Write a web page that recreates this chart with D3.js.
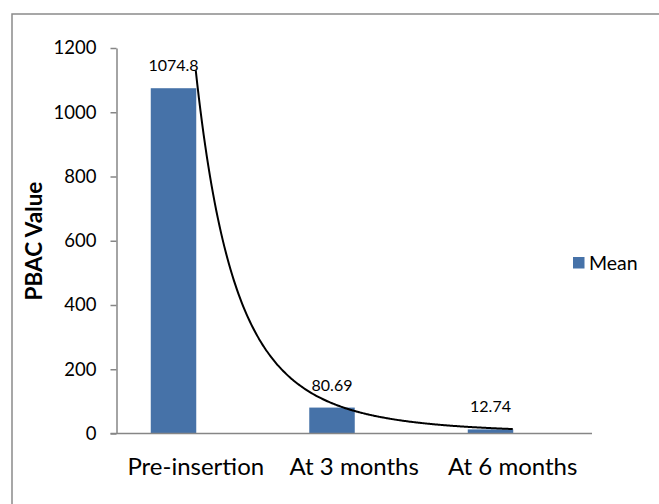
<!DOCTYPE html>
<html>
<head>
<meta charset="utf-8">
<script src="https://cdn.jsdelivr.net/npm/d3@7"></script>
<style>
  html, body { margin: 0; padding: 0; background: #fff; }
  svg { display: block; }
  text { font-family: Lato, "Open Sans", sans-serif; fill: #000; }
</style>
</head>
<body>
<svg id="chart" width="659" height="504"></svg>
<script>
// ---- data ----
const categories = ["Pre-insertion", "At 3 months", "At 6 months"];
const meanValues = [1074.8, 80.69, 12.74];
const valueLabels = ["1074.8", "80.69", "12.74"];
const yTicks = [0, 200, 400, 600, 800, 1000, 1200];
const seriesName = "Mean";
const yTitle = "PBAC Value";

const svg = d3.select("#chart");
const W = 659, H = 504;

// outer border
svg.append("rect")
  .attr("x", 12).attr("y", 14)
  .attr("width", W + 20).attr("height", H + 20)
  .attr("fill", "none").attr("stroke", "#8a8a8a").attr("stroke-width", 1.5);

const plotLeft = 116.5, plotRight = 592, plotTop = 48, plotBottom = 433.5;

const x = d3.scaleBand().domain(categories).range([plotLeft, plotRight]).padding(0);
const y = d3.scaleLinear().domain([0, 1200]).range([plotBottom, plotTop]);

const bw = x.bandwidth();
const barW = bw * 0.287;
const center = c => x(c) + bw / 2;

// bars (offset left of category center, as in a clustered layout)
svg.append("g").selectAll("rect")
  .data(meanValues)
  .join("rect")
  .attr("x", (d, i) => center(categories[i]) - barW + 0.5)
  .attr("y", d => y(d))
  .attr("width", barW)
  .attr("height", d => y(0) - y(d))
  .attr("fill", "#4672a8");

// y axis
const yAxis = d3.axisLeft(y).tickValues(yTicks).tickFormat(d3.format("d"))
  .tickSize(6).tickSizeOuter(0).tickPadding(14);
const gy = svg.append("g").attr("transform", `translate(${plotLeft},0)`).call(yAxis);
gy.select(".domain").attr("stroke", "#868686").attr("stroke-width", 1.5);
gy.selectAll(".tick line").attr("stroke", "#868686").attr("stroke-width", 1.5);
gy.selectAll(".tick text")
  .style("font-family", "Lato, 'Open Sans', sans-serif")
  .style("font-size", "18.5px").attr("fill", "#000");

// x axis
const xAxis = d3.axisBottom(x).tickSize(0).tickSizeOuter(0).tickPadding(0);
const gx = svg.append("g").attr("transform", `translate(0,${plotBottom})`).call(xAxis);
gx.select(".domain").attr("stroke", "#868686").attr("stroke-width", 1.5)
  .attr("d", `M${plotLeft - 6},0H${plotRight}`);
gx.selectAll(".tick text")
  .style("font-family", "Lato, 'Open Sans', sans-serif")
  .style("font-size", "24px").attr("fill", "#000")
  .attr("dy", null).attr("y", 41.5);

// data labels
svg.append("g").selectAll("text")
  .data(meanValues)
  .join("text")
  .attr("x", (d, i) => center(categories[i]) - barW / 2 + 0.5)
  .attr("y", d => y(d) - 17)
  .attr("text-anchor", "middle")
  .style("font-size", "16px")
  .text((d, i) => valueLabels[i]);

// power trendline fitted to the series (y = a * x^b)
const xs = meanValues.map((d, i) => i + 1);
const lx = xs.map(Math.log), ly = meanValues.map(Math.log);
const mx = d3.mean(lx), my = d3.mean(ly);
const b = d3.sum(lx.map((v, i) => (v - mx) * (ly[i] - my))) / d3.sum(lx.map(v => (v - mx) ** 2));
const a = Math.exp(my - b * mx);
const xt = d3.scaleLinear().domain([1, categories.length])
  .range([center(categories[0]), center(categories[categories.length - 1])]);
const tSamples = d3.range(1, 3.0001, 0.01);
svg.append("path")
  .datum(tSamples)
  .attr("fill", "none").attr("stroke", "#000").attr("stroke-width", 2)
  .attr("d", d3.line().x(t => xt(t)).y(t => y(a * Math.pow(t, b))).curve(d3.curveMonotoneX));

// y title
svg.append("text")
  .attr("transform", `translate(42,241) rotate(-90)`)
  .attr("text-anchor", "middle")
  .style("font-size", "22.5px").style("font-weight", "bold")
  .text(yTitle);

// legend
svg.append("rect").attr("x", 573).attr("y", 257).attr("width", 11.5).attr("height", 11.5).attr("fill", "#4672a8");
svg.append("text").attr("x", 589).attr("y", 269.5).style("font-size", "19.5px").text(seriesName);
</script>
</body>
</html>
